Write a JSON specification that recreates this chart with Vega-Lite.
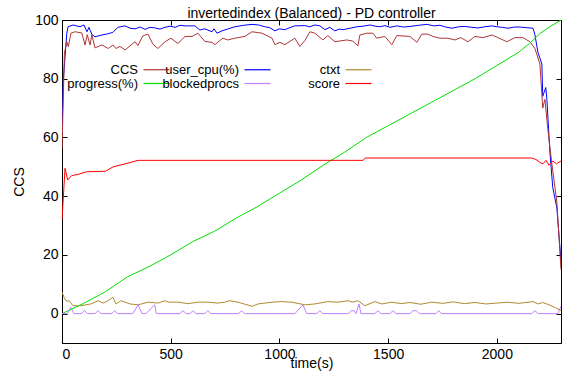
{
  "$schema": "https://vega.github.io/schema/vega-lite/v6.json",
  "width": 499,
  "height": 323,
  "autosize": "none",
  "padding": {"left": 62, "top": 20, "right": 1, "bottom": 34},
  "background": "white",
  "title": {"text": "invertedindex (Balanced) - PD controller", "fontSize": 14, "fontWeight": "normal", "font": "Liberation Sans", "color": "black", "offset": -8},
  "config": {
    "view": {"stroke": "black", "strokeWidth": 1},
    "axis": {"grid": false, "labelFont": "Liberation Sans", "titleFont": "Liberation Sans", "labelFontSize": 14, "titleFontSize": 14, "titleFontWeight": "normal", "labelColor": "black", "titleColor": "black", "domainColor": "black", "tickColor": "black", "tickSize": -5, "labelPadding": 9, "format": "d"}
  },
  "data": {"values": [
    {"series":"user_cpu(%)","t":0,"v":62},{"series":"user_cpu(%)","t":6,"v":79.5},{"series":"user_cpu(%)","t":22,"v":95.5},{"series":"user_cpu(%)","t":28,"v":97.7},{"series":"user_cpu(%)","t":51,"v":98.3},{"series":"user_cpu(%)","t":83,"v":97.7},{"series":"user_cpu(%)","t":101,"v":98.3},{"series":"user_cpu(%)","t":115,"v":96},{"series":"user_cpu(%)","t":124,"v":97.5},{"series":"user_cpu(%)","t":138,"v":95},{"series":"user_cpu(%)","t":152,"v":94.3},{"series":"user_cpu(%)","t":184,"v":94.9},{"series":"user_cpu(%)","t":211,"v":95.3},{"series":"user_cpu(%)","t":234,"v":95.8},{"series":"user_cpu(%)","t":257,"v":97.5},{"series":"user_cpu(%)","t":290,"v":98},{"series":"user_cpu(%)","t":313,"v":97.2},{"series":"user_cpu(%)","t":336,"v":97},{"series":"user_cpu(%)","t":360,"v":97.6},{"series":"user_cpu(%)","t":382,"v":96.8},{"series":"user_cpu(%)","t":405,"v":97.5},{"series":"user_cpu(%)","t":428,"v":97.3},{"series":"user_cpu(%)","t":451,"v":96.9},{"series":"user_cpu(%)","t":474,"v":97.5},{"series":"user_cpu(%)","t":497,"v":97.9},{"series":"user_cpu(%)","t":520,"v":97.5},{"series":"user_cpu(%)","t":543,"v":98.2},{"series":"user_cpu(%)","t":566,"v":98},{"series":"user_cpu(%)","t":611,"v":98},{"series":"user_cpu(%)","t":634,"v":96.6},{"series":"user_cpu(%)","t":657,"v":97},{"series":"user_cpu(%)","t":690,"v":96},{"series":"user_cpu(%)","t":699,"v":97},{"series":"user_cpu(%)","t":713,"v":95.5},{"series":"user_cpu(%)","t":736,"v":96.3},{"series":"user_cpu(%)","t":765,"v":97},{"series":"user_cpu(%)","t":795,"v":97.7},{"series":"user_cpu(%)","t":835,"v":98.2},{"series":"user_cpu(%)","t":874,"v":98.5},{"series":"user_cpu(%)","t":905,"v":98.3},{"series":"user_cpu(%)","t":933,"v":97.7},{"series":"user_cpu(%)","t":955,"v":97.4},{"series":"user_cpu(%)","t":979,"v":96.3},{"series":"user_cpu(%)","t":1000,"v":97},{"series":"user_cpu(%)","t":1025,"v":96.7},{"series":"user_cpu(%)","t":1048,"v":97.4},{"series":"user_cpu(%)","t":1071,"v":98},{"series":"user_cpu(%)","t":1117,"v":98.1},{"series":"user_cpu(%)","t":1140,"v":97.7},{"series":"user_cpu(%)","t":1163,"v":98.3},{"series":"user_cpu(%)","t":1186,"v":98},{"series":"user_cpu(%)","t":1209,"v":96.7},{"series":"user_cpu(%)","t":1232,"v":97.5},{"series":"user_cpu(%)","t":1255,"v":96.3},{"series":"user_cpu(%)","t":1275,"v":96.9},{"series":"user_cpu(%)","t":1292,"v":96.7},{"series":"user_cpu(%)","t":1325,"v":97.2},{"series":"user_cpu(%)","t":1356,"v":97.7},{"series":"user_cpu(%)","t":1385,"v":97.9},{"series":"user_cpu(%)","t":1416,"v":98.3},{"series":"user_cpu(%)","t":1440,"v":97.9},{"series":"user_cpu(%)","t":1462,"v":97.7},{"series":"user_cpu(%)","t":1485,"v":98.1},{"series":"user_cpu(%)","t":1508,"v":97.5},{"series":"user_cpu(%)","t":1540,"v":98},{"series":"user_cpu(%)","t":1570,"v":97.6},{"series":"user_cpu(%)","t":1600,"v":97.8},{"series":"user_cpu(%)","t":1640,"v":98.2},{"series":"user_cpu(%)","t":1678,"v":98.5},{"series":"user_cpu(%)","t":1710,"v":98},{"series":"user_cpu(%)","t":1738,"v":98.2},{"series":"user_cpu(%)","t":1765,"v":97.6},{"series":"user_cpu(%)","t":1793,"v":97.2},{"series":"user_cpu(%)","t":1825,"v":97.7},{"series":"user_cpu(%)","t":1853,"v":97.8},{"series":"user_cpu(%)","t":1885,"v":97.5},{"series":"user_cpu(%)","t":1913,"v":97.3},{"series":"user_cpu(%)","t":1945,"v":97.7},{"series":"user_cpu(%)","t":1977,"v":98},{"series":"user_cpu(%)","t":2000,"v":97.7},{"series":"user_cpu(%)","t":2025,"v":97.5},{"series":"user_cpu(%)","t":2051,"v":97.2},{"series":"user_cpu(%)","t":2080,"v":97.6},{"series":"user_cpu(%)","t":2106,"v":97.6},{"series":"user_cpu(%)","t":2135,"v":97.4},{"series":"user_cpu(%)","t":2166,"v":97.2},{"series":"user_cpu(%)","t":2175,"v":95},{"series":"user_cpu(%)","t":2189,"v":89},{"series":"user_cpu(%)","t":2207,"v":85},{"series":"user_cpu(%)","t":2211,"v":74},{"series":"user_cpu(%)","t":2225,"v":77},{"series":"user_cpu(%)","t":2230,"v":73},{"series":"user_cpu(%)","t":2244,"v":55},{"series":"user_cpu(%)","t":2257,"v":43},{"series":"user_cpu(%)","t":2276,"v":36},{"series":"user_cpu(%)","t":2280,"v":32},{"series":"user_cpu(%)","t":2295,"v":18},

    {"series":"CCS","t":0,"v":56},{"series":"CCS","t":11,"v":88.7},{"series":"CCS","t":22,"v":92.6},{"series":"CCS","t":29,"v":90.9},{"series":"CCS","t":41,"v":95.5},{"series":"CCS","t":60,"v":96},{"series":"CCS","t":91,"v":95.6},{"series":"CCS","t":106,"v":91.5},{"series":"CCS","t":116,"v":95},{"series":"CCS","t":129,"v":91.5},{"series":"CCS","t":137,"v":95},{"series":"CCS","t":152,"v":90.5},{"series":"CCS","t":183,"v":91.5},{"series":"CCS","t":213,"v":90.3},{"series":"CCS","t":234,"v":91.5},{"series":"CCS","t":248,"v":90.3},{"series":"CCS","t":267,"v":91},{"series":"CCS","t":290,"v":89.8},{"series":"CCS","t":336,"v":92.6},{"series":"CCS","t":349,"v":91.3},{"series":"CCS","t":372,"v":94.6},{"series":"CCS","t":395,"v":95.2},{"series":"CCS","t":418,"v":91.8},{"series":"CCS","t":441,"v":90.3},{"series":"CCS","t":474,"v":92.6},{"series":"CCS","t":501,"v":93.8},{"series":"CCS","t":533,"v":92},{"series":"CCS","t":566,"v":94.4},{"series":"CCS","t":598,"v":94.4},{"series":"CCS","t":625,"v":95.5},{"series":"CCS","t":657,"v":92.7},{"series":"CCS","t":690,"v":92.4},{"series":"CCS","t":703,"v":91.6},{"series":"CCS","t":722,"v":92.8},{"series":"CCS","t":740,"v":93.8},{"series":"CCS","t":763,"v":93.2},{"series":"CCS","t":795,"v":93.8},{"series":"CCS","t":841,"v":94.4},{"series":"CCS","t":874,"v":96},{"series":"CCS","t":920,"v":95.5},{"series":"CCS","t":966,"v":93.8},{"series":"CCS","t":979,"v":91.6},{"series":"CCS","t":1002,"v":92.4},{"series":"CCS","t":1025,"v":91.6},{"series":"CCS","t":1071,"v":93.8},{"series":"CCS","t":1094,"v":91},{"series":"CCS","t":1117,"v":93},{"series":"CCS","t":1140,"v":96},{"series":"CCS","t":1163,"v":95.5},{"series":"CCS","t":1200,"v":93.2},{"series":"CCS","t":1223,"v":94.7},{"series":"CCS","t":1255,"v":92.6},{"series":"CCS","t":1310,"v":93.2},{"series":"CCS","t":1338,"v":92.8},{"series":"CCS","t":1361,"v":91.2},{"series":"CCS","t":1370,"v":94.9},{"series":"CCS","t":1402,"v":95.5},{"series":"CCS","t":1430,"v":95.5},{"series":"CCS","t":1448,"v":93.8},{"series":"CCS","t":1485,"v":94.4},{"series":"CCS","t":1517,"v":91.6},{"series":"CCS","t":1540,"v":94.7},{"series":"CCS","t":1600,"v":94.4},{"series":"CCS","t":1632,"v":92.4},{"series":"CCS","t":1655,"v":95.2},{"series":"CCS","t":1683,"v":95.2},{"series":"CCS","t":1706,"v":94.4},{"series":"CCS","t":1738,"v":93.8},{"series":"CCS","t":1775,"v":93.8},{"series":"CCS","t":1807,"v":93.2},{"series":"CCS","t":1834,"v":94},{"series":"CCS","t":1867,"v":92.6},{"series":"CCS","t":1899,"v":94.4},{"series":"CCS","t":1936,"v":94},{"series":"CCS","t":1977,"v":94.9},{"series":"CCS","t":2005,"v":94},{"series":"CCS","t":2046,"v":92.6},{"series":"CCS","t":2083,"v":94},{"series":"CCS","t":2120,"v":94},{"series":"CCS","t":2152,"v":92.6},{"series":"CCS","t":2175,"v":90.3},{"series":"CCS","t":2198,"v":85},{"series":"CCS","t":2211,"v":70},{"series":"CCS","t":2221,"v":73},{"series":"CCS","t":2234,"v":63},{"series":"CCS","t":2253,"v":51},{"series":"CCS","t":2276,"v":38},{"series":"CCS","t":2295,"v":15},

    {"series":"ctxt","t":0,"v":7.3},{"series":"ctxt","t":10,"v":5.5},{"series":"ctxt","t":18,"v":4.4},{"series":"ctxt","t":35,"v":4.2},{"series":"ctxt","t":50,"v":2.7},{"series":"ctxt","t":87,"v":2.7},{"series":"ctxt","t":133,"v":3.3},{"series":"ctxt","t":166,"v":4.4},{"series":"ctxt","t":189,"v":3.6},{"series":"ctxt","t":212,"v":4.4},{"series":"ctxt","t":234,"v":5.6},{"series":"ctxt","t":248,"v":3.3},{"series":"ctxt","t":271,"v":4.4},{"series":"ctxt","t":313,"v":3.3},{"series":"ctxt","t":350,"v":3},{"series":"ctxt","t":396,"v":3.9},{"series":"ctxt","t":442,"v":3.6},{"series":"ctxt","t":474,"v":4.4},{"series":"ctxt","t":488,"v":3.9},{"series":"ctxt","t":534,"v":3.9},{"series":"ctxt","t":580,"v":3.4},{"series":"ctxt","t":625,"v":3.9},{"series":"ctxt","t":671,"v":3.9},{"series":"ctxt","t":717,"v":3.6},{"series":"ctxt","t":749,"v":3.9},{"series":"ctxt","t":772,"v":4.4},{"series":"ctxt","t":809,"v":3.9},{"series":"ctxt","t":874,"v":2.5},{"series":"ctxt","t":901,"v":3.3},{"series":"ctxt","t":966,"v":3.9},{"series":"ctxt","t":1011,"v":4.1},{"series":"ctxt","t":1057,"v":3.9},{"series":"ctxt","t":1117,"v":3},{"series":"ctxt","t":1163,"v":3.3},{"series":"ctxt","t":1223,"v":4.1},{"series":"ctxt","t":1269,"v":3.9},{"series":"ctxt","t":1315,"v":4.4},{"series":"ctxt","t":1338,"v":3.9},{"series":"ctxt","t":1361,"v":4.4},{"series":"ctxt","t":1393,"v":2.7},{"series":"ctxt","t":1439,"v":4.1},{"series":"ctxt","t":1471,"v":3.3},{"series":"ctxt","t":1517,"v":3.9},{"series":"ctxt","t":1560,"v":3.4},{"series":"ctxt","t":1600,"v":3.8},{"series":"ctxt","t":1650,"v":3.2},{"series":"ctxt","t":1700,"v":3.9},{"series":"ctxt","t":1750,"v":3.5},{"series":"ctxt","t":1800,"v":4},{"series":"ctxt","t":1850,"v":3.4},{"series":"ctxt","t":1900,"v":3.8},{"series":"ctxt","t":1950,"v":3.3},{"series":"ctxt","t":2000,"v":3.6},{"series":"ctxt","t":2050,"v":3.9},{"series":"ctxt","t":2100,"v":3.5},{"series":"ctxt","t":2166,"v":4.1},{"series":"ctxt","t":2190,"v":3.3},{"series":"ctxt","t":2210,"v":3.8},{"series":"ctxt","t":2240,"v":3},{"series":"ctxt","t":2270,"v":2},{"series":"ctxt","t":2295,"v":1},

    {"series":"progress(%)","t":0,"v":0},{"series":"progress(%)","t":100,"v":3.5},{"series":"progress(%)","t":200,"v":7.5},{"series":"progress(%)","t":300,"v":12.5},{"series":"progress(%)","t":400,"v":16},{"series":"progress(%)","t":500,"v":20},{"series":"progress(%)","t":600,"v":24.5},{"series":"progress(%)","t":700,"v":28},{"series":"progress(%)","t":800,"v":32.5},{"series":"progress(%)","t":900,"v":36.5},{"series":"progress(%)","t":1000,"v":41},{"series":"progress(%)","t":1100,"v":45.5},{"series":"progress(%)","t":1200,"v":50.5},{"series":"progress(%)","t":1300,"v":55},{"series":"progress(%)","t":1400,"v":60},{"series":"progress(%)","t":1500,"v":64},{"series":"progress(%)","t":1600,"v":68},{"series":"progress(%)","t":1700,"v":72},{"series":"progress(%)","t":1800,"v":76},{"series":"progress(%)","t":1900,"v":80},{"series":"progress(%)","t":2000,"v":84.5},{"series":"progress(%)","t":2100,"v":89},{"series":"progress(%)","t":2150,"v":92},{"series":"progress(%)","t":2200,"v":95.5},{"series":"progress(%)","t":2250,"v":98},{"series":"progress(%)","t":2295,"v":100},

    {"series":"blockedprocs","t":0,"v":0},{"series":"blockedprocs","t":25,"v":0},{"series":"blockedprocs","t":40,"v":2.2},{"series":"blockedprocs","t":55,"v":0},{"series":"blockedprocs","t":90,"v":0},{"series":"blockedprocs","t":104,"v":1},{"series":"blockedprocs","t":118,"v":0},{"series":"blockedprocs","t":152,"v":0},{"series":"blockedprocs","t":166,"v":1},{"series":"blockedprocs","t":180,"v":0},{"series":"blockedprocs","t":228,"v":0},{"series":"blockedprocs","t":242,"v":1},{"series":"blockedprocs","t":256,"v":0},{"series":"blockedprocs","t":326,"v":0},{"series":"blockedprocs","t":350,"v":3},{"series":"blockedprocs","t":368,"v":0},{"series":"blockedprocs","t":386,"v":0},{"series":"blockedprocs","t":426,"v":3},{"series":"blockedprocs","t":434,"v":0},{"series":"blockedprocs","t":542,"v":0},{"series":"blockedprocs","t":556,"v":1},{"series":"blockedprocs","t":570,"v":0},{"series":"blockedprocs","t":588,"v":0},{"series":"blockedprocs","t":602,"v":1},{"series":"blockedprocs","t":616,"v":0},{"series":"blockedprocs","t":657,"v":0},{"series":"blockedprocs","t":671,"v":1},{"series":"blockedprocs","t":685,"v":0},{"series":"blockedprocs","t":812,"v":0},{"series":"blockedprocs","t":826,"v":1},{"series":"blockedprocs","t":840,"v":0},{"series":"blockedprocs","t":1071,"v":0},{"series":"blockedprocs","t":1108,"v":3},{"series":"blockedprocs","t":1126,"v":0},{"series":"blockedprocs","t":1172,"v":0},{"series":"blockedprocs","t":1186,"v":1},{"series":"blockedprocs","t":1200,"v":0},{"series":"blockedprocs","t":1318,"v":0},{"series":"blockedprocs","t":1330,"v":1},{"series":"blockedprocs","t":1343,"v":1},{"series":"blockedprocs","t":1352,"v":0},{"series":"blockedprocs","t":1366,"v":3.3},{"series":"blockedprocs","t":1375,"v":0},{"series":"blockedprocs","t":1439,"v":0},{"series":"blockedprocs","t":1453,"v":1},{"series":"blockedprocs","t":1467,"v":0},{"series":"blockedprocs","t":1508,"v":0},{"series":"blockedprocs","t":1522,"v":1},{"series":"blockedprocs","t":1536,"v":0},{"series":"blockedprocs","t":1600,"v":0},{"series":"blockedprocs","t":1614,"v":1},{"series":"blockedprocs","t":1630,"v":1},{"series":"blockedprocs","t":1644,"v":0},{"series":"blockedprocs","t":1720,"v":0},{"series":"blockedprocs","t":1733,"v":1},{"series":"blockedprocs","t":1747,"v":0},{"series":"blockedprocs","t":2160,"v":0},{"series":"blockedprocs","t":2175,"v":1},{"series":"blockedprocs","t":2190,"v":0},{"series":"blockedprocs","t":2280,"v":0},{"series":"blockedprocs","t":2295,"v":2.5},

    {"series":"score","t":0,"v":32},{"series":"score","t":14,"v":49.5},{"series":"score","t":26,"v":45.5},{"series":"score","t":44,"v":47},{"series":"score","t":73,"v":47.4},{"series":"score","t":113,"v":48.3},{"series":"score","t":200,"v":48.5},{"series":"score","t":235,"v":50},{"series":"score","t":290,"v":51},{"series":"score","t":350,"v":52.2},{"series":"score","t":1385,"v":52.2},{"series":"score","t":1395,"v":53},{"series":"score","t":2160,"v":53},{"series":"score","t":2180,"v":52.5},{"series":"score","t":2198,"v":51.5},{"series":"score","t":2212,"v":51},{"series":"score","t":2226,"v":52.2},{"series":"score","t":2240,"v":50.5},{"series":"score","t":2258,"v":52},{"series":"score","t":2274,"v":51},{"series":"score","t":2295,"v":52}
  ]},
  "layer": [
    {
      "mark": {"type": "line", "strokeWidth": 1, "clip": true},
      "encoding": {
        "x": {"field": "t", "type": "quantitative", "scale": {"domain": [0, 2295], "nice": false, "zero": false}, "axis": {"values": [0, 500, 1000, 1500, 2000], "title": "time(s)", "titlePadding": -5}},
        "y": {"field": "v", "type": "quantitative", "scale": {"domain": [-10, 100], "nice": false}, "axis": {"values": [0, 20, 40, 60, 80, 100], "title": "CCS", "titlePadding": 8}},
        "color": {"field": "series", "type": "nominal",
          "scale": {"domain": ["CCS", "user_cpu(%)", "ctxt", "progress(%)", "blockedprocs", "score"], "range": ["#b03535", "#0000ff", "#b08a30", "#00e000", "#c080ff", "#ff0000"]},
          "legend": {"orient": "none", "legendX": 88, "legendY": 43, "columns": 3, "direction": "horizontal", "gridAlign": "all", "title": null, "symbolType": "M-3,0H3", "symbolSize": 75, "symbolStrokeWidth": 1.2, "labelFont": "Liberation Sans", "labelFontSize": 13, "labelColor": "black", "labelAlign": "right", "labelOffset": -25, "columnPadding": -10, "rowPadding": -15}
        },
        "detail": {"field": "series"}
      }
    },
    {
      "mark": {"type": "point", "opacity": 0},
      "encoding": {
        "x": {"field": "t", "type": "quantitative", "scale": {"domain": [0, 2295], "nice": false, "zero": false}, "axis": {"orient": "top", "values": [0, 500, 1000, 1500, 2000], "labels": false, "title": null, "domain": false}},
        "y": {"field": "v", "type": "quantitative", "scale": {"domain": [-10, 100], "nice": false}, "axis": {"orient": "right", "values": [0, 20, 40, 60, 80, 100], "labels": false, "title": null, "domain": false}}
      }
    }
  ],
  "resolve": {"axis": {"x": "independent", "y": "independent"}}
}
